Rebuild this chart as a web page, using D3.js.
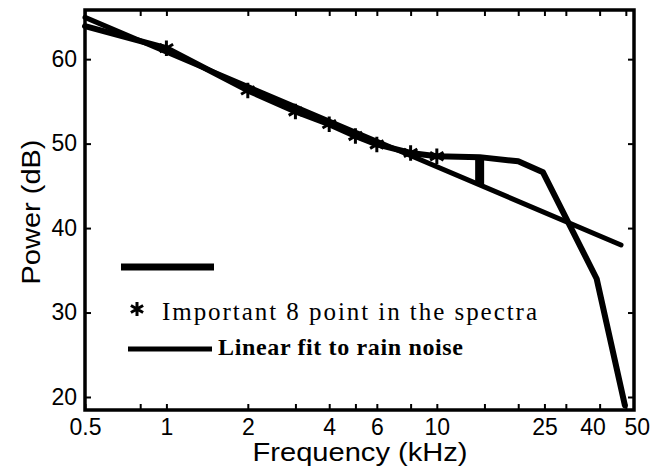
<!DOCTYPE html>
<html>
<head>
<meta charset="utf-8">
<script src="https://cdn.jsdelivr.net/npm/d3@7"></script>
<style>
  body { margin: 0; background: #fff; }
  svg { display: block; }
</style>
</head>
<body>
<svg id="chart"></svg>
<script>
// spectrum of rain noise (kHz, dB)
var specFreq  = [0.5, 1, 2, 3, 4, 5, 6, 8, 10, 14.4, 20, 24.7, 39, 49.6];
var specPower = [63.9, 61.3, 56.3, 53.8, 52.3, 50.9, 49.9, 48.9, 48.5, 48.4, 47.9, 46.6, 34.0, 19.0];

// the 8 important points
var starFreq  = [1, 2, 3, 4, 5, 6, 8, 10];
var starPower = [61.3, 56.3, 53.8, 52.3, 50.9, 49.9, 48.9, 48.5];

// linear fit (straight in log-frequency)
var fitFreq  = [0.5, 48];
var fitPower = [64.95, 38.0];

// difference bar
var barFreq  = [14.4];
var barTop   = [48.4];
var barBot   = [45.1];

var xTicks      = [0.5, 0.8, 1, 2, 3, 4, 5, 6, 8, 10, 15, 20, 25, 30, 40, 50];
var xTickLabels = [0.5, 1, 2, 4, 6, 10, 25, 40, 50];
var yTicks      = [20, 30, 40, 50, 60];

var W = 652, H = 472;
var mLeft = 85, mRight = 634, mTop = 10, mBottom = 410;

var svg = d3.select('#chart').attr('width', W).attr('height', H);

var x = d3.scaleLog().domain([0.5, 53.6]).range([mLeft, mRight]);
var y = d3.scaleLinear().domain([18.46, 65.82]).range([mBottom, mTop]);

var font = "'Liberation Sans', Arial, Helvetica, sans-serif";

// bottom axis
var xAxis = d3.axisBottom(x)
    .tickValues(xTicks)
    .tickSize(-6)
    .tickSizeOuter(0)
    .tickPadding(9)
    .tickFormat(function(d) { return xTickLabels.indexOf(d) >= 0 ? d3.format('')(d) : ''; });

var gx = svg.append('g')
    .attr('transform', 'translate(0,' + mBottom + ')')
    .call(xAxis);
gx.select('.domain').remove();
gx.selectAll('line').attr('stroke', '#000').attr('stroke-width', 2);
gx.selectAll('text')
    .attr('fill', '#000')
    .style('font-family', font)
    .style('font-size', '23px')
    .attr('dx', function(d) { return d === 40 ? -7 : (d === 50 ? 11 : 0); });

// top ticks
var gt = svg.append('g')
    .attr('transform', 'translate(0,' + mTop + ')')
    .call(d3.axisTop(x).tickValues(xTicks).tickSize(-6).tickSizeOuter(0).tickFormat(''));
gt.select('.domain').remove();
gt.selectAll('line').attr('stroke', '#000').attr('stroke-width', 2);

// left axis
var gy = svg.append('g')
    .attr('transform', 'translate(' + mLeft + ',0)')
    .call(d3.axisLeft(y).tickValues(yTicks).tickSize(-6).tickSizeOuter(0).tickPadding(8));
gy.select('.domain').remove();
gy.selectAll('line').attr('stroke', '#000').attr('stroke-width', 2);
gy.selectAll('text')
    .attr('fill', '#000')
    .style('font-family', font)
    .style('font-size', '23px');

// right ticks
var gr = svg.append('g')
    .attr('transform', 'translate(' + mRight + ',0)')
    .call(d3.axisRight(y).tickValues(yTicks).tickSize(-6).tickSizeOuter(0).tickFormat(''));
gr.select('.domain').remove();
gr.selectAll('line').attr('stroke', '#000').attr('stroke-width', 2);

// box
svg.append('rect')
    .attr('x', mLeft).attr('y', mTop)
    .attr('width', mRight - mLeft).attr('height', mBottom - mTop)
    .attr('fill', 'none').attr('stroke', '#000').attr('stroke-width', 3.5);

// axis titles
svg.append('text')
    .attr('x', 360).attr('y', 461)
    .attr('text-anchor', 'middle')
    .attr('textLength', 215).attr('lengthAdjust', 'spacingAndGlyphs')
    .style('font-family', font).style('font-size', '25px')
    .text('Frequency (kHz)');

svg.append('text')
    .attr('transform', 'translate(40,212) rotate(-90)')
    .attr('text-anchor', 'middle')
    .attr('textLength', 145).attr('lengthAdjust', 'spacingAndGlyphs')
    .style('font-family', font).style('font-size', '25px')
    .text('Power (dB)');

// lines
var line = d3.line()
    .x(function(d) { return x(d[0]); })
    .y(function(d) { return y(d[1]); });

var plot = svg.append('g');

plot.append('path')
    .datum(d3.zip(fitFreq, fitPower))
    .attr('d', line)
    .attr('fill', 'none').attr('stroke', '#000')
    .attr('stroke-width', 5).attr('stroke-linecap', 'round');

plot.append('path')
    .datum(d3.zip(specFreq, specPower))
    .attr('d', line)
    .attr('fill', 'none').attr('stroke', '#000')
    .attr('stroke-width', 6).attr('stroke-linejoin', 'round').attr('stroke-linecap', 'round');

plot.selectAll('.bar')
    .data(d3.zip(barFreq, barTop, barBot))
    .enter().append('line')
    .attr('class', 'bar')
    .attr('x1', function(d) { return x(d[0]); })
    .attr('x2', function(d) { return x(d[0]); })
    .attr('y1', function(d) { return y(d[1]); })
    .attr('y2', function(d) { return y(d[2]); })
    .attr('stroke', '#000').attr('stroke-width', 9);

var star = d3.symbol().type(d3.symbolAsterisk).size(170);

plot.selectAll('.star')
    .data(d3.zip(starFreq, starPower))
    .enter().append('path')
    .attr('class', 'star')
    .attr('d', star)
    .attr('transform', function(d) { return 'translate(' + x(d[0]) + ',' + y(d[1]) + ')'; })
    .attr('fill', 'none').attr('stroke', '#000').attr('stroke-width', 3);

// legend
var lg = svg.append('g');
lg.append('line')
    .attr('x1', 121).attr('x2', 214).attr('y1', 267).attr('y2', 267)
    .attr('stroke', '#000').attr('stroke-width', 7);

lg.append('path')
    .attr('d', d3.symbol().type(d3.symbolAsterisk).size(140))
    .attr('transform', 'translate(137,309)')
    .attr('fill', 'none').attr('stroke', '#000').attr('stroke-width', 3);

lg.append('text')
    .attr('x', 162).attr('y', 320)
    .attr('textLength', 375).attr('lengthAdjust', 'spacing')
    .style('font-family', "'Liberation Serif', 'Times New Roman', serif")
    .style('font-size', '25px')
    .text('Important 8 point in the spectra');

lg.append('line')
    .attr('x1', 128).attr('x2', 212).attr('y1', 349).attr('y2', 349)
    .attr('stroke', '#000').attr('stroke-width', 5);

lg.append('text')
    .attr('x', 218).attr('y', 355)
    .attr('textLength', 245).attr('lengthAdjust', 'spacing')
    .style('font-family', "'Liberation Serif', 'Times New Roman', serif")
    .style('font-size', '24px').style('font-weight', 'bold')
    .text('Linear fit to rain noise');
</script>
</body>
</html>
